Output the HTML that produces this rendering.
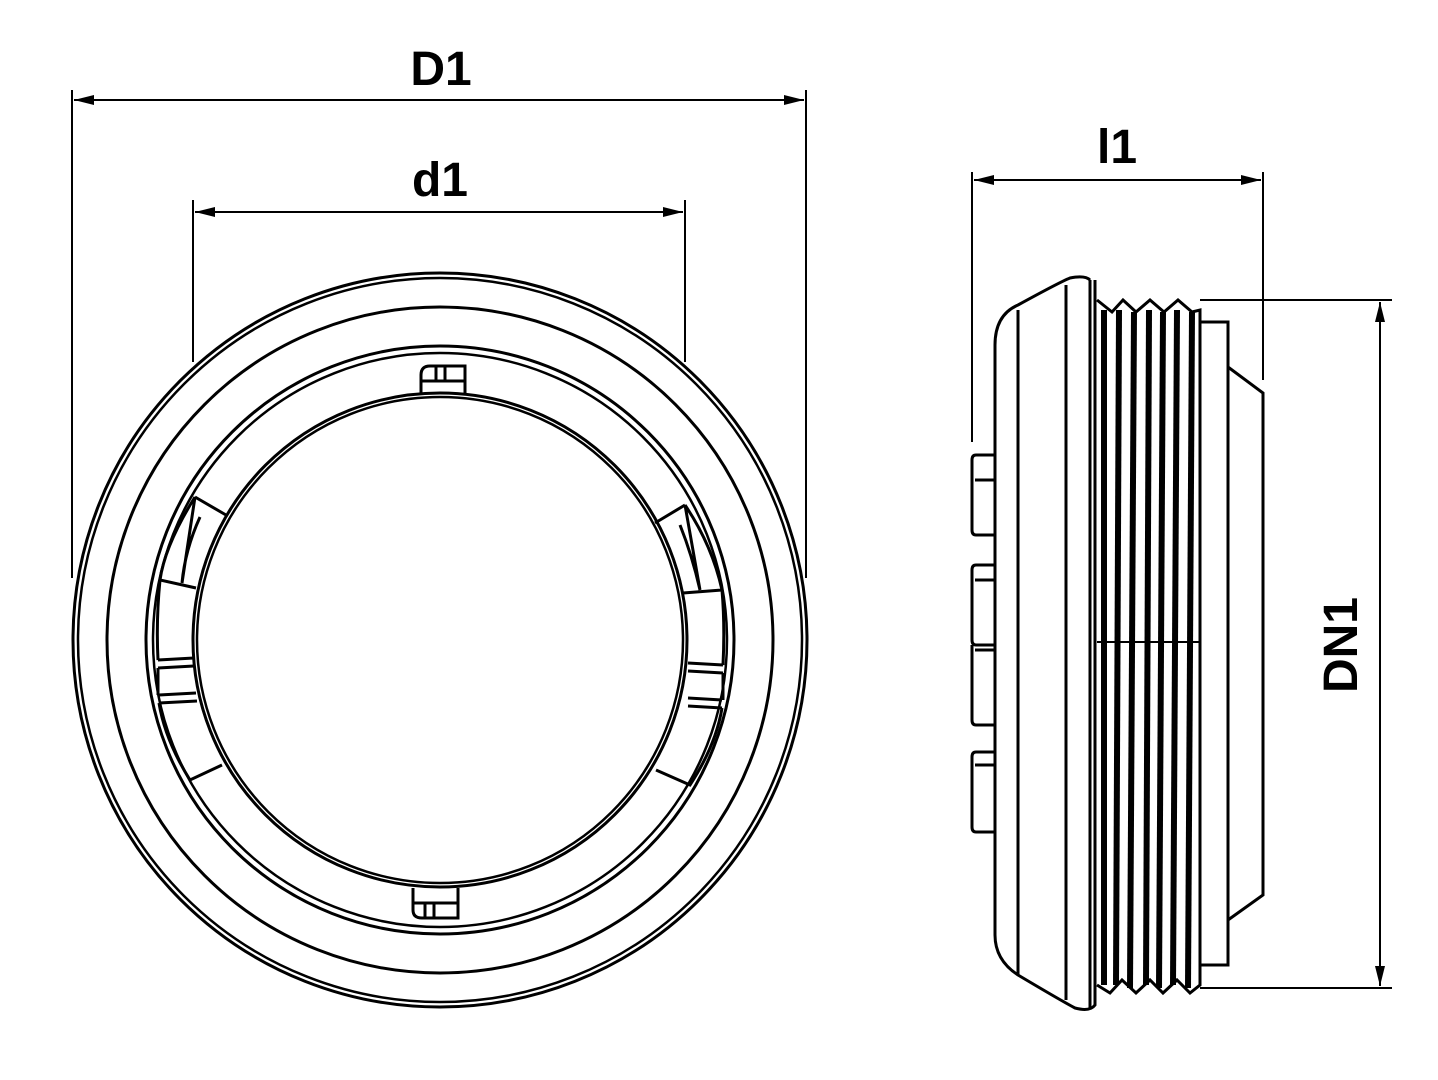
<!DOCTYPE html>
<html><head><style>html,body{margin:0;padding:0;background:#fff}svg{display:block}</style></head>
<body>
<svg width="1438" height="1080" viewBox="0 0 1438 1080" xmlns="http://www.w3.org/2000/svg">
<defs>
<marker id="a" viewBox="0 0 20 10" refX="20" refY="5" markerWidth="22" markerHeight="10" markerUnits="userSpaceOnUse" orient="auto-start-reverse"><path d="M0,0 L20,5 L0,10 z" fill="#000"/></marker>
</defs>
<g stroke="#000" fill="none" stroke-width="2">
<line x1="72" y1="90" x2="72" y2="578"/><line x1="806" y1="90" x2="806" y2="578"/>
<line x1="74" y1="100" x2="804" y2="100" marker-start="url(#a)" marker-end="url(#a)"/>
<line x1="193" y1="200" x2="193" y2="362"/><line x1="685" y1="200" x2="685" y2="362"/>
<line x1="195" y1="212" x2="683" y2="212" marker-start="url(#a)" marker-end="url(#a)"/>
<line x1="972" y1="172" x2="972" y2="442"/><line x1="1263" y1="172" x2="1263" y2="380"/>
<line x1="974" y1="180" x2="1261" y2="180" marker-start="url(#a)" marker-end="url(#a)"/>
<line x1="1200" y1="300" x2="1392" y2="300"/><line x1="1200" y1="988" x2="1392" y2="988"/>
<line x1="1380" y1="302" x2="1380" y2="986" marker-start="url(#a)" marker-end="url(#a)"/>
</g>
<g font-family="Liberation Sans, sans-serif" font-size="48" font-weight="bold" text-anchor="middle" fill="#000">
<text x="441" y="85">D1</text>
<text x="440" y="196">d1</text>
<text x="1117" y="163">l1</text>
<text transform="translate(1357,645) rotate(-90)">DN1</text>
</g>
<!-- front view -->
<g stroke="#000" fill="none" stroke-width="3">
<circle cx="440" cy="640" r="367"/>
<circle cx="440" cy="640" r="362" stroke-width="2.5"/>
<circle cx="440" cy="640" r="333"/>
<circle cx="440" cy="640" r="294"/>
<circle cx="440" cy="640" r="287" stroke-width="2.5"/>
<circle cx="440" cy="640" r="247"/>
<circle cx="440" cy="640" r="243" stroke-width="2.5"/>
<path d="M421,395 V375 Q421,366 430,366 H465 V395"/><line x1="421" y1="381" x2="465" y2="381"/><line x1="436" y1="366" x2="436" y2="381"/><line x1="445" y1="366" x2="445" y2="381"/>
<path d="M413,888 V910 Q413,918 422,918 H458 V888"/><line x1="413" y1="903" x2="458" y2="903"/><line x1="425" y1="903" x2="425" y2="918"/><line x1="434" y1="903" x2="434" y2="918"/>
<!-- left windows -->
<path d="M195,497 L226,515 M195,497 Q165,545 160,580 L196,588 M195,497 L182,583 M200,517 Q185,550 182,583"/>
<path d="M160,580 Q156,620 158,660 M158,660 L194,658 M158,668 L194,666 M158,668 V695 M159,695 L196,693 M159,703 L197,701 M159,703 Q165,740 190,780 L222,765"/>
<!-- right windows -->
<path d="M685,505 L655,523 M685,505 Q712,545 722,590 L683,593 M685,505 L700,590 M680,525 Q692,555 700,590"/>
<path d="M722,590 Q725,625 723,665 M723,665 L688,663 M723,673 L688,671 M723,673 V700 M722,700 L688,698 M722,708 L688,706 M722,708 Q716,745 690,785 L656,770"/>
</g>
<!-- side view -->
<g stroke="#000" fill="none" stroke-width="3">
<path d="M1090,280 Q1085,275 1070,278 Q1060,282 1018,305 Q995,315 995,345 V935 Q995,960 1018,975 Q1060,1000 1075,1008 Q1090,1012 1095,1005 V280"/>
<line x1="1018" y1="310" x2="1018" y2="975"/>
<line x1="1066" y1="285" x2="1066" y2="1000"/>
<line x1="1090" y1="280" x2="1090" y2="1008"/>
<path d="M1097,300 L1112,312 L1123,300 L1136,312 L1150,300 L1164,312 L1178,300 L1192,312 L1200,310 V985 L1190,993 L1177,980 L1163,993 L1150,980 L1136,993 L1122,980 L1110,993 L1097,985"/>
<g stroke-width="6"><line x1="1104" y1="310" x2="1104" y2="985"/><line x1="1119" y1="310" x2="1116" y2="985"/><line x1="1134" y1="312" x2="1130" y2="988"/><line x1="1149" y1="310" x2="1146" y2="985"/><line x1="1163" y1="312" x2="1159" y2="988"/><line x1="1177" y1="310" x2="1173" y2="985"/><line x1="1192" y1="312" x2="1188" y2="988"/></g>
<line x1="1097" y1="642" x2="1200" y2="642" stroke-width="2"/>
<path d="M1200,322 H1228 V965 H1200"/>
<path d="M1228,367 L1263,393 V895 L1228,920"/>
<path d="M995,455 H976 Q972,455 972,460 V530 Q972,535 976,535 H995"/><line x1="975" y1="480" x2="995" y2="480"/>
<path d="M995,565 H976 Q972,565 972,570 V640 Q972,645 976,645 H995"/><line x1="975" y1="580" x2="995" y2="580"/>
<path d="M995,645 V725 H976 Q972,725 972,720 V645"/><line x1="975" y1="650" x2="995" y2="650"/>
<path d="M995,752 H976 Q972,752 972,757 V827 Q972,832 976,832 H995"/><line x1="975" y1="765" x2="995" y2="765"/>
</g>
</svg>
</body></html>
